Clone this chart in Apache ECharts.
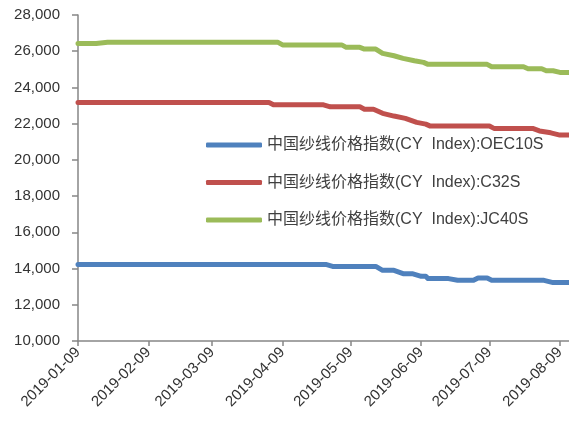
<!DOCTYPE html>
<html>
<head>
<meta charset="utf-8">
<script src="https://cdn.jsdelivr.net/npm/echarts@6/dist/echarts.min.js"></script>
<style>
html,body{margin:0;padding:0;background:#fff;}
#chart{width:569px;height:428px;}
</style>
</head>
<body>
<div id="chart"></div>
<script>
// ---- data ----
const startDate = '2019-01-09';
const endDate = '2019-08-13';
const tickLabels = ['2019-01-09','2019-02-09','2019-03-09','2019-04-09','2019-05-09','2019-06-09','2019-07-09','2019-08-09'];
const seriesNames = ['中国纱线价格指数(CY  Index):OEC10S','中国纱线价格指数(CY  Index):C32S','中国纱线价格指数(CY  Index):JC40S'];

const oec10s = [
  ['2019-01-09',14230],['2019-04-28',14230],['2019-05-01',14120],['2019-05-20',14120],
  ['2019-05-23',13900],['2019-05-28',13900],['2019-06-01',13720],['2019-06-05',13720],
  ['2019-06-09',13570],['2019-06-11',13570],['2019-06-12',13445],['2019-06-21',13445],
  ['2019-06-25',13350],['2019-07-02',13350],['2019-07-04',13480],['2019-07-08',13480],
  ['2019-07-10',13350],['2019-08-02',13350],['2019-08-06',13225],['2019-08-13',13225]
];
const c32s = [
  ['2019-01-09',23170],['2019-04-03',23170],['2019-04-05',23040],['2019-04-27',23040],
  ['2019-04-30',22930],['2019-05-13',22930],['2019-05-15',22800],['2019-05-19',22800],
  ['2019-05-23',22570],['2019-05-28',22420],['2019-06-02',22290],['2019-06-07',22070],
  ['2019-06-11',21975],['2019-06-13',21865],['2019-07-09',21865],['2019-07-11',21740],
  ['2019-07-28',21740],['2019-07-31',21600],['2019-08-05',21495],['2019-08-09',21370],
  ['2019-08-13',21370]
];
const jc40s = [
  ['2019-01-09',26430],['2019-01-17',26430],['2019-01-22',26490],['2019-04-07',26490],
  ['2019-04-09',26350],['2019-05-05',26350],['2019-05-07',26215],['2019-05-13',26215],
  ['2019-05-15',26120],['2019-05-20',26120],['2019-05-23',25880],['2019-05-28',25750],
  ['2019-06-01',25605],['2019-06-06',25475],['2019-06-10',25385],['2019-06-12',25275],
  ['2019-07-08',25275],['2019-07-10',25142],['2019-07-24',25142],['2019-07-26',25032],
  ['2019-08-01',25032],['2019-08-03',24920],['2019-08-06',24920],['2019-08-09',24830],
  ['2019-08-13',24830]
];
const colors = ['#4F81BD','#C0504D','#9BBB59'];

// ---- build daily category axis ----
function pad(n){return n<10?'0'+n:''+n;}
const days = [];
{
  const s = new Date(startDate+'T00:00:00Z'), e = new Date(endDate+'T00:00:00Z');
  for (let d = new Date(s); d <= e; d.setUTCDate(d.getUTCDate()+1)) {
    days.push(d.getUTCFullYear()+'-'+pad(d.getUTCMonth()+1)+'-'+pad(d.getUTCDate()));
  }
}
const tickSet = new Set(tickLabels);
const allData = [oec10s, c32s, jc40s];

const chart = echarts.init(document.getElementById('chart'), null, {renderer:'canvas'});
chart.setOption({
  animation: false,
  backgroundColor: '#fff',
  grid: {left: 78, right: 0, top: 15, bottom: 87, containLabel: false},
  legend: {
    orient: 'vertical',
    left: 206,
    top: 135,
    padding: 0,
    itemWidth: 56,
    itemHeight: 5,
    itemGap: 17.5,
    icon: 'roundRect',
    textStyle: {fontSize: 16, lineHeight: 20, color: '#404040', fontFamily: 'Liberation Sans, Noto Sans CJK SC, sans-serif'},
    data: seriesNames
  },
  xAxis: {
    type: 'category',
    data: days,
    boundaryGap: false,
    axisLine: {lineStyle: {color: '#868686', width: 1.5}},
    axisTick: {show: true, length: 5, interval: (i, v) => tickSet.has(v), lineStyle: {color: '#868686', width: 1.5}},
    axisLabel: {
      interval: (i, v) => tickSet.has(v),
      rotate: 45, margin: 9,
      fontSize: 15, color: '#333', fontFamily: 'Liberation Sans, sans-serif'
    },
    splitLine: {show: false}
  },
  yAxis: {
    type: 'value',
    min: 10000, max: 28000, interval: 2000,
    axisLine: {show: true, lineStyle: {color: '#868686', width: 1.5}},
    axisTick: {show: true, length: 6, lineStyle: {color: '#868686', width: 1.5}},
    axisLabel: {
      margin: 18, fontSize: 15, color: '#333', fontFamily: 'Liberation Sans, sans-serif',
      formatter: v => v.toLocaleString('en-US')
    },
    splitLine: {show: false}
  },
  series: allData.map((d, i) => ({
    name: seriesNames[i],
    type: 'line',
    data: d,
    symbol: 'none',
    showSymbol: false,
    color: colors[i],
    lineStyle: {width: 5, color: colors[i], cap: 'round', join: 'round'},
    clip: false
  }))
});
</script>
</body>
</html>
